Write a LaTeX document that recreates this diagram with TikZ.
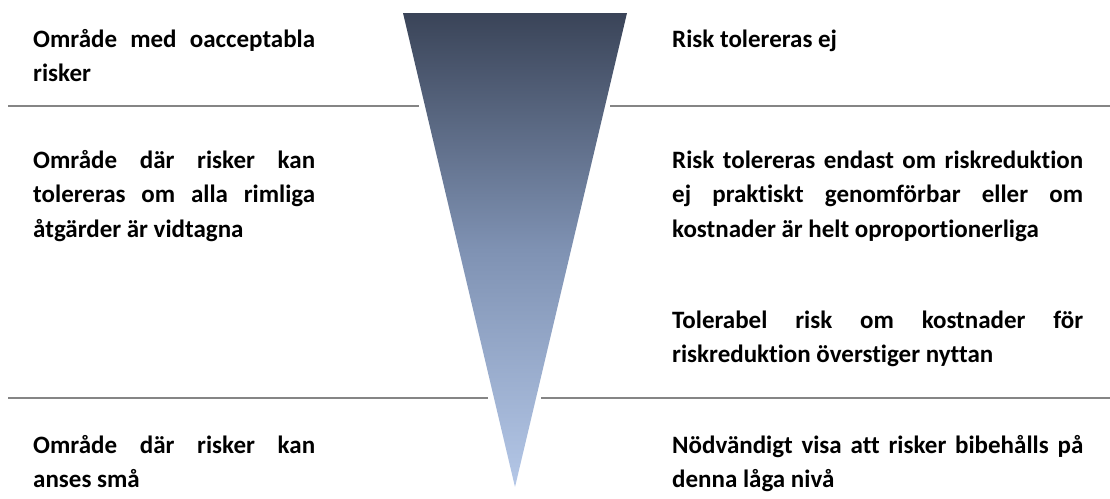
\documentclass[tikz,border=0pt]{standalone}
\usepackage{fontspec}
\setmainfont{Carlito}[Ligatures=NoCommon]
\definecolor{topc}{HTML}{3A4458}
\definecolor{midc}{HTML}{7F92B3}
\definecolor{botc}{HTML}{B4C7E7}
\definecolor{sepc}{HTML}{858585}
\begin{document}
\begin{tikzpicture}[x=1pt,y=-1pt,
  lbl/.style={anchor=base west, inner sep=0pt, text width=#1, align=justify,
    font=\fontsize{25}{34.5}\selectfont\bfseries,
    execute at begin node={\hyphenpenalty=10000\relax\exhyphenpenalty=10000\relax\hfuzz=20pt\relax}},
  sepline/.style={line width=2.5pt, draw=sepc}]
\useasboundingbox (0,0) rectangle (1110,498);
% funnel
\coordinate (tl) at (403,13);
\coordinate (tr) at (627,13);
\coordinate (ap) at (515,487);
\shade[top color=topc, bottom color=botc, middle color=midc] (tl) -- (tr) -- (ap) -- cycle;
% separators
\coordinate (s1a) at (8,106);  \coordinate (s1b) at (419,106);
\coordinate (s2a) at (610,106); \coordinate (s2b) at (1110,106);
\coordinate (s3a) at (8,398);  \coordinate (s3b) at (488,398);
\coordinate (s4a) at (541,398); \coordinate (s4b) at (1110,398);
\draw[sepline] (s1a) -- (s1b);
\draw[sepline] (s2a) -- (s2b);
\draw[sepline] (s3a) -- (s3b);
\draw[sepline] (s4a) -- (s4b);
% left texts
\node[lbl=282pt] (l1) at (33,47) {Område med oacceptabla\linebreak risker};
\node[lbl=282pt] (l2) at (33,168) {Område där risker kan\linebreak tolereras om alla rimliga\linebreak åtgärder är vidtagna};
\node[lbl=282pt] (l3) at (33,453) {Område där risker kan\linebreak anses små};
% right texts
\node[lbl=411pt] (r1) at (672,47) {Risk tolereras ej};
\node[lbl=411pt] (r2) at (672,168) {Risk tolereras endast om riskreduktion\linebreak ej praktiskt genomförbar eller om\linebreak kostnader är helt oproportionerliga};
\node[lbl=411pt] (r3) at (672,328) {Tolerabel risk om kostnader för\linebreak riskreduktion överstiger nyttan};
\node[lbl=411pt] (r4) at (672,453) {Nödvändigt visa att risker bibehålls på\linebreak denna låga nivå};
\end{tikzpicture}
\end{document}
